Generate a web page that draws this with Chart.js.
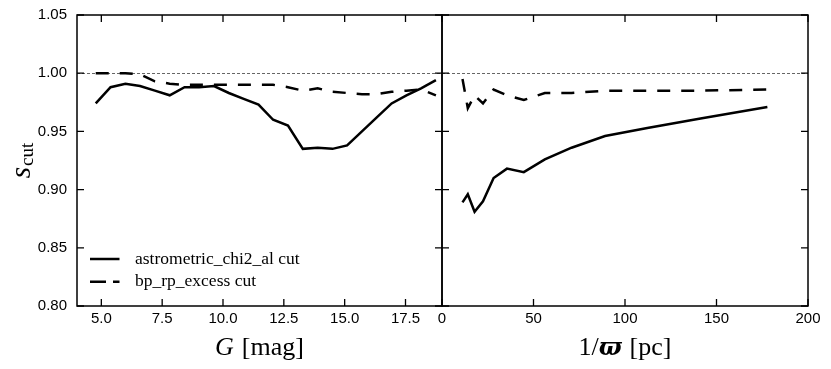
<!DOCTYPE html>
<html>
<head>
<meta charset="utf-8">
<script src="https://cdn.jsdelivr.net/npm/chart.js@4.4.0/dist/chart.umd.min.js"></script>
<style>
  html, body { margin: 0; padding: 0; background: #fff; }
  #wrap { position: relative; width: 831px; height: 369px; }
  #wrap canvas { position: absolute; top: 0; }
  #magChart { left: 0; }
  #distChart { left: 434px; }
</style>
</head>
<body>
<div id="wrap">
  <canvas id="magChart" width="450" height="369"></canvas>
  <canvas id="distChart" width="397" height="369"></canvas>
</div>
<script>
// left panel: G magnitude bins
const gMag = [4.77, 5.38, 5.99, 6.59, 7.2, 7.81, 8.42, 9.02, 9.63, 10.24, 10.85, 11.46,
              12.06, 12.67, 13.28, 13.89, 14.5, 15.1, 15.71, 16.32, 16.93, 17.54, 18.14, 18.75];
const chi2CutMag = [0.974, 0.988, 0.991, 0.989, 0.985, 0.981, 0.988, 0.988, 0.989, 0.983, 0.978, 0.973,
                    0.960, 0.955, 0.935, 0.936, 0.935, 0.938, 0.950, 0.962, 0.974, 0.981, 0.987, 0.994];
const excessCutMag = [1.000, 1.000, 1.000, 0.999, 0.993, 0.991, 0.990, 0.990, 0.990, 0.990, 0.990, 0.990,
                      0.990, 0.988, 0.985, 0.987, 0.984, 0.983, 0.982, 0.982, 0.984, 0.985, 0.986, 0.981];

// right panel: distance bins (pc)
const dist = [11.2, 14.1, 17.8, 22.4, 28.2, 35.5, 44.7, 56.2, 70.8, 89.1, 112.2, 141.3, 177.8];
const chi2CutDist = [0.889, 0.896, 0.881, 0.890, 0.910, 0.918, 0.915, 0.926, 0.936, 0.946, 0.953, 0.961, 0.971];
const excessCutDist = [0.995, 0.970, 0.981, 0.974, 0.986, 0.981, 0.977, 0.983, 0.983, 0.985, 0.985, 0.985, 0.986];

const gTicks = [5, 7.5, 10, 12.5, 15, 17.5];
const distTicks = [0, 50, 100, 150, 200];
const sTicks = [0.80, 0.85, 0.90, 0.95, 1.00, 1.05];

const tickFont = { family: "'Liberation Sans', Arial, sans-serif", size: 15 };
const serif = "'Liberation Serif', 'DejaVu Serif', serif";

function makeSets(xs, solid, dashed) {
  return [
    {
      label: "astrometric_chi2_al cut",
      data: xs.map((x, i) => ({ x: x, y: solid[i] })),
      borderColor: "#000", borderWidth: 2.5, pointRadius: 0, tension: 0, fill: false
    },
    {
      label: "bp_rp_excess cut",
      data: xs.map((x, i) => ({ x: x, y: dashed[i] })),
      borderColor: "#000", borderWidth: 2.5, borderDash: [13, 11], pointRadius: 0, tension: 0, fill: false
    }
  ];
}

// dotted s=1 line, frame and inward ticks on all four sides
function framePlugin(xTicks) {
  return {
    id: "frame",
    beforeDatasetsDraw(chart) {
      const { ctx, chartArea: a, scales: { y } } = chart;
      const py = Math.round(y.getPixelForValue(1)) + 0.5;
      ctx.save();
      ctx.strokeStyle = "#666";
      ctx.lineWidth = 1;
      ctx.setLineDash([3, 2]);
      ctx.beginPath();
      ctx.moveTo(a.left, py);
      ctx.lineTo(a.right, py);
      ctx.stroke();
      ctx.restore();
    },
    afterDraw(chart) {
      const { ctx, chartArea: a, scales: { x, y } } = chart;
      ctx.save();
      ctx.strokeStyle = "#000";
      ctx.lineWidth = 1.3;
      ctx.beginPath();
      xTicks.forEach(v => {
        const px = x.getPixelForValue(v);
        ctx.moveTo(px, a.bottom); ctx.lineTo(px, a.bottom - 7);
        ctx.moveTo(px, a.top); ctx.lineTo(px, a.top + 7);
      });
      sTicks.forEach(v => {
        const py = y.getPixelForValue(v);
        ctx.moveTo(a.left, py); ctx.lineTo(a.left + 7, py);
        ctx.moveTo(a.right, py); ctx.lineTo(a.right - 7, py);
      });
      ctx.stroke();
      ctx.lineWidth = 1.5;
      ctx.strokeRect(a.left, a.top, a.right - a.left, a.bottom - a.top);
      ctx.restore();
    }
  };
}

// axis title built from pieces with their own fonts
function drawParts(ctx, parts, cx, baseline) {
  let total = 0;
  parts.forEach(p => { ctx.font = p.font; p.w = ctx.measureText(p.text).width + (p.gap || 0); total += p.w; });
  let x = cx - total / 2;
  parts.forEach(p => {
    ctx.font = p.font;
    ctx.fillText(p.text, x, baseline + (p.dy || 0));
    x += p.w;
  });
}

const magTitles = {
  id: "magTitles",
  afterDraw(chart) {
    const { ctx, chartArea: a } = chart;
    ctx.save();
    ctx.fillStyle = "#000";
    ctx.textBaseline = "alphabetic";
    drawParts(ctx, [
      { text: "G", font: "italic 26px " + serif, gap: 8 },
      { text: "[mag]", font: "26px " + serif }
    ], (a.left + a.right) / 2, 355);

    // y title s_cut, rotated
    ctx.translate(30, (a.top + a.bottom) / 2);
    ctx.rotate(-Math.PI / 2);
    drawParts(ctx, [
      { text: "s", font: "italic 29px " + serif, gap: 1 },
      { text: "cut", font: "19px " + serif, dy: 3 }
    ], 0, 0);
    ctx.restore();

    // legend in the lower left corner
    ctx.save();
    ctx.strokeStyle = "#000";
    ctx.fillStyle = "#000";
    ctx.font = "17.5px " + serif;
    chart.data.datasets.forEach((ds, i) => {
      const ly = a.bottom - 47 + i * 22.7;
      ctx.lineWidth = ds.borderWidth;
      ctx.setLineDash(ds.borderDash ? [16, 7] : []);
      ctx.beginPath();
      ctx.moveTo(a.left + 13, ly);
      ctx.lineTo(a.left + 42.5, ly);
      ctx.stroke();
      ctx.fillText(ds.label, a.left + 58, ly + 4.5);
    });
    ctx.restore();
  }
};

const distTitles = {
  id: "distTitles",
  afterDraw(chart) {
    const { ctx, chartArea: a } = chart;
    ctx.save();
    ctx.fillStyle = "#000";
    ctx.textBaseline = "alphabetic";
    drawParts(ctx, [
      { text: "1/", font: "26px " + serif },
      { text: "\u03d6", font: "bold italic 24px 'DejaVu Serif', serif", gap: 8 },
      { text: "[pc]", font: "26px " + serif }
    ], (a.left + a.right) / 2, 355);
    ctx.restore();
  }
};

function xScale(min, max, ticks, fmt) {
  return {
    type: "linear", min: min, max: max,
    afterBuildTicks: s => { s.ticks = ticks.map(v => ({ value: v })); },
    afterFit: s => { s.height = 63; s.paddingLeft = 0; s.paddingRight = 0; },
    grid: { display: false, drawTicks: false },
    border: { display: false },
    ticks: { padding: 4, font: tickFont, color: "#000", autoSkip: false, maxRotation: 0, callback: fmt }
  };
}

new Chart(document.getElementById("magChart"), {
  type: "line",
  data: { datasets: makeSets(gMag, chi2CutMag, excessCutMag) },
  options: {
    responsive: false,
    animation: false,
    devicePixelRatio: 1,
    layout: { padding: { top: 15, right: 8, left: 0, bottom: 0 } },
    plugins: { legend: { display: false }, tooltip: { enabled: false } },
    scales: {
      x: xScale(4, 19, gTicks, v => v.toFixed(1)),
      y: {
        min: 0.8, max: 1.05,
        afterBuildTicks: s => { s.ticks = sTicks.map(v => ({ value: v })); },
        afterFit: s => { s.width = 77; s.paddingTop = 0; s.paddingBottom = 0; },
        grid: { display: false, drawTicks: false },
        border: { display: false },
        ticks: { padding: 10, font: tickFont, color: "#000", callback: v => v.toFixed(2) }
      }
    }
  },
  plugins: [framePlugin(gTicks), magTitles]
});

new Chart(document.getElementById("distChart"), {
  type: "line",
  data: { datasets: makeSets(dist, chi2CutDist, excessCutDist) },
  options: {
    responsive: false,
    animation: false,
    devicePixelRatio: 1,
    layout: { padding: { top: 15, right: 23, left: 8, bottom: 0 } },
    plugins: { legend: { display: false }, tooltip: { enabled: false } },
    scales: {
      x: xScale(0, 200, distTicks, v => String(v)),
      y: { display: false, min: 0.8, max: 1.05 }
    }
  },
  plugins: [framePlugin(distTicks), distTitles]
});
</script>
</body>
</html>
